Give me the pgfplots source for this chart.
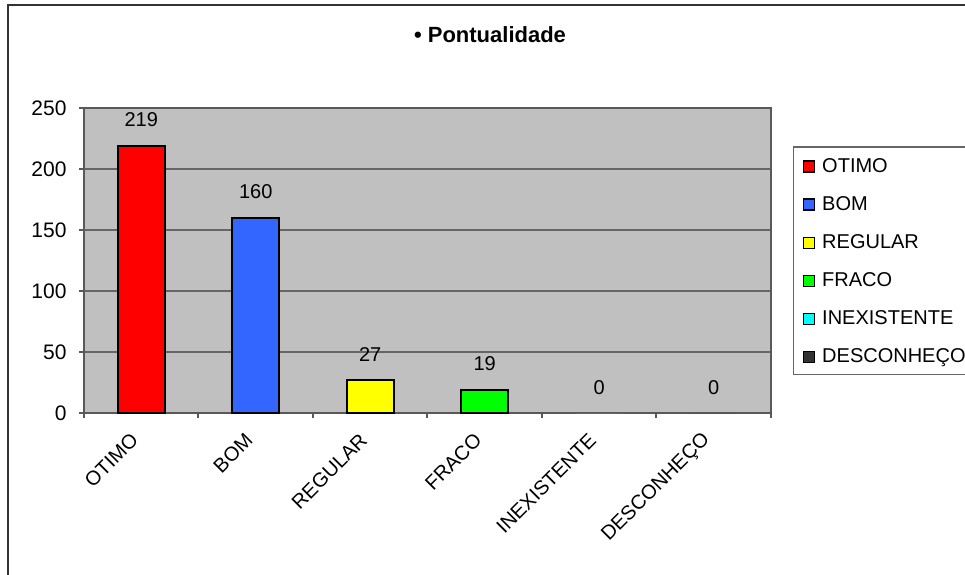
\documentclass[border=0pt]{standalone}
\usepackage{fontspec}
\setmainfont{Liberation Sans}
\usepackage{pgfplots}
\pgfplotsset{compat=1.18}
\definecolor{plotbg}{HTML}{C0C0C0}
\definecolor{cBlue}{HTML}{3366FF}
\definecolor{cRed}{HTML}{FF0000}
\definecolor{cYellow}{HTML}{FFFF00}
\definecolor{cGreen}{HTML}{00FF00}
\definecolor{cCyan}{HTML}{00FFFF}
\definecolor{cDark}{HTML}{333333}
\pgfplotsset{mybar/.style={bar shift=0pt, draw=black, line width=1pt,
  legend image code/.code={\draw[##1, draw=black, line width=0.75pt] (0pt,-3.5pt) rectangle (5.5pt,2pt);}}}
\begin{document}
\begin{tikzpicture}
\path[use as bounding box] (0,0) rectangle (482.5pt,287pt);
\draw[line width=1pt, black!80] (4pt,-5pt) -- (4pt,284.5pt) -- (490pt,284.5pt);
\begin{axis}[
  at={(42pt,80.5pt)}, anchor=south west,
  scale only axis, width=343.5pt, height=152.5pt,
  ybar, bar width=23.5pt,
  xmin=-0.5, xmax=5.5, ymin=0, ymax=250,
  ytick={0,50,...,250},
  xtick={-0.5,0.5,...,5.5}, xticklabels={},
  extra x ticks={0,1,2,3,4,5},
  extra x tick labels={OTIMO,BOM,REGULAR,FRACO,INEXISTENTE,DESCONHEÇO},
  extra x tick style={major tick length=0pt, xticklabel style={xshift=-0.9pt, yshift=-9.5pt, rotate=45, anchor=east}},
  tick align=outside, major tick length=2.5pt,
  xtick pos=left, ytick pos=left,
  ymajorgrids, grid style={black!60, line width=0.9pt},
  axis line style={black!65, line width=1pt},
  tick style={black!65, line width=1pt},
  axis background/.style={fill=plotbg},
  every tick label/.append style={font=\fontsize{10pt}{12pt}\selectfont, text=black},
  yticklabel style={font=\fontsize{10.5pt}{12pt}\selectfont, xshift=-2.7pt},
  /pgf/number format/assume math mode=true,
  title={\textbf{• Pontualidade}},
  every axis title shift=0pt,
  title style={at={(0.591,1.239)}, anchor=center, font=\fontsize{11pt}{13pt}\selectfont},
  nodes near coords,
  nodes near coords style={font=\fontsize{10pt}{12pt}\selectfont, text=black, anchor=south, yshift=5.5pt},
  legend cell align=left,
  legend style={at={(1.032,0.8754)}, anchor=north west, draw=black!60, line width=0.75pt,
    fill=white, font=\fontsize{10pt}{12pt}\selectfont, inner xsep=4.5pt, inner ysep=5.5pt,
    row sep=11.6pt, column sep=3.5pt,
    nodes={inner sep=0pt, text height=7.2pt, text depth=0pt}},
]
\addplot[mybar, fill=cRed] coordinates {(0,219)};
\addlegendentry{OTIMO}
\addplot[mybar, fill=cBlue] coordinates {(1,160)};
\addlegendentry{BOM}
\addplot[mybar, fill=cYellow] coordinates {(2,27)};
\addlegendentry{REGULAR}
\addplot[mybar, fill=cGreen] coordinates {(3,19)};
\addlegendentry{FRACO}
\addplot[mybar, fill=cCyan, draw=none] coordinates {(4,0)};
\addlegendentry{INEXISTENTE}
\addplot[mybar, fill=cDark, draw=none] coordinates {(5,0)};
\addlegendentry{DESCONHEÇO}
\end{axis}
\end{tikzpicture}
\end{document}
